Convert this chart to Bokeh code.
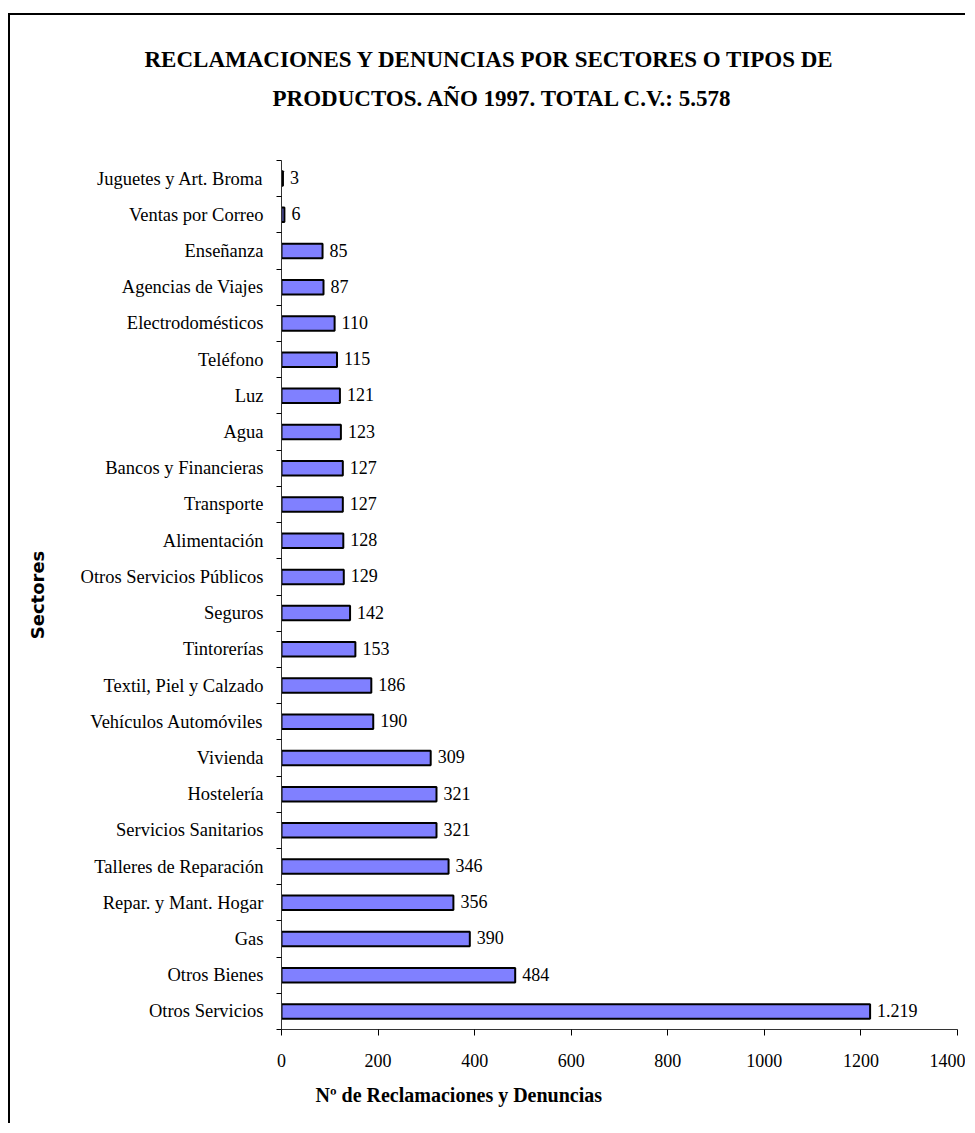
from bokeh.plotting import figure
from bokeh.models import Range1d, FixedTicker, Title, ColumnDataSource
from bokeh.core.properties import value
from bokeh.embed import file_html
from bokeh.resources import INLINE

# ---- data (top to bottom as shown) ----
categories = [
    "Juguetes y Art. Broma", "Ventas por Correo", "Enseñanza", "Agencias de Viajes",
    "Electrodomésticos", "Teléfono", "Luz", "Agua", "Bancos y Financieras",
    "Transporte", "Alimentación", "Otros Servicios Públicos", "Seguros",
    "Tintorerías", "Textil, Piel y Calzado", "Vehículos Automóviles", "Vivienda",
    "Hostelería", "Servicios Sanitarios", "Talleres de Reparación",
    "Repar. y Mant. Hogar", "Gas", "Otros Bienes", "Otros Servicios",
]
values = [3, 6, 85, 87, 110, 115, 121, 123, 127, 127, 128, 129, 142, 153, 186,
          190, 309, 321, 321, 346, 356, 390, 484, 1219]
x_ticks = [0, 200, 400, 600, 800, 1000, 1200, 1400]

title_lines = ["RECLAMACIONES Y DENUNCIAS POR SECTORES O TIPOS DE",
               "PRODUCTOS. AÑO 1997. TOTAL C.V.: 5.578"]
x_title = "Nº de Reclamaciones y Denuncias"
y_title = "Sectores"

n = len(categories)
ypos = [n - k - 0.5 for k in range(n)]
labels = [f"{v:,}".replace(",", ".") for v in values]

src = ColumnDataSource(dict(y=ypos, v=values, lab=labels, cat=categories))

W, H = 957, 1110
# frame position in canvas px
FL, FR, FT, FB = 271, 947, 145, 1014

p = figure(width=W, height=H, output_backend="svg", toolbar_location=None,
           x_range=Range1d(0, 1400), y_range=Range1d(0, n),
           min_border_left=FL, min_border_right=W - FR,
           min_border_top=FT, min_border_bottom=H - FB)
p.styles = {"border-top": "2px solid black", "border-left": "2px solid black",
            "margin-top": "13px", "margin-left": "8px"}
p.outline_line_color = None
p.xgrid.grid_line_color = None
p.ygrid.grid_line_color = None
p.background_fill_color = "white"
p.border_fill_color = "white"

p.hbar(y="y", right="v", left=0, height=0.4, source=src,
       fill_color="#8080FF", line_color="black", line_width=2)
p.text(x="v", y="y", text="lab", source=src, x_offset=7, y_offset=-1,
       text_baseline="middle", text_align="left",
       text_font=value("Liberation Serif"), text_font_size="18px",
       text_color="black")

# axes
xa = p.xaxis[0]
xa.ticker = FixedTicker(ticks=x_ticks)
xa.major_tick_out = 6
xa.major_tick_in = 0
xa.minor_tick_out = 0
xa.minor_tick_in = 0
xa.axis_line_color = "#333333"
xa.major_label_text_font = "Liberation Serif"
xa.major_label_text_font_size = "18px"
xa.major_label_text_color = "black"
xa.major_label_standoff = 18

ya = p.yaxis[0]
ya.ticker = FixedTicker(ticks=ypos, minor_ticks=list(range(n + 1)))
ya.major_label_overrides = {yv: c for yv, c in zip(ypos, categories)}
ya.major_tick_out = 0
ya.major_tick_in = 0
ya.minor_tick_out = 5
ya.minor_tick_in = 0
ya.axis_line_color = "#333333"
ya.major_label_text_font = "Liberation Serif"
ya.major_label_text_font_size = "18.5px"
ya.major_label_text_color = "black"
ya.major_label_standoff = 13
ya.axis_label = y_title
ya.axis_label_text_font = "DejaVu Sans"
ya.axis_label_text_font_style = "bold"
ya.axis_label_text_font_size = "18px"
ya.axis_label_text_color = "black"
ya.axis_label_standoff = 30

# titles (above): spacer first (closest to plot), then line 2, then line 1
p.add_layout(Title(text=" ", text_font_size="25px", standoff=15), "above")
p.add_layout(Title(text=title_lines[1], align="left", offset=-9,
                   text_font="Liberation Serif", text_font_style="bold",
                   text_font_size="23px", text_color="black"), "above")
p.add_layout(Title(text=title_lines[0], align="left", offset=-137, standoff=13,
                   text_font="Liberation Serif", text_font_style="bold",
                   text_font_size="23px", text_color="black"), "above")

# x axis title (below, left aligned)
p.add_layout(Title(text=x_title, align="left", offset=34, standoff=24,
                   text_font="Liberation Serif", text_font_style="bold",
                   text_font_size="20px", text_color="black"), "below")

open("out.html", "w").write(file_html(p, INLINE))
